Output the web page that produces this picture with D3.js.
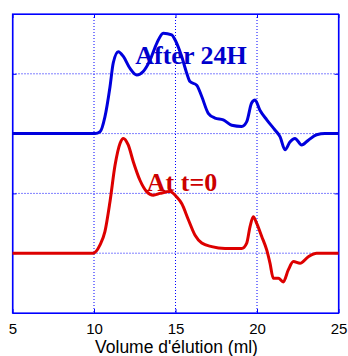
<!DOCTYPE html>
<html>
<head>
<meta charset="utf-8">
<script src="https://cdn.jsdelivr.net/npm/d3@7"></script>
<style>
  body { margin: 0; background: #fff; }
  svg { display: block; }
</style>
</head>
<body>
<div id="chart"></div>
<script>
// tick values
var xTicks = [5, 10, 15, 20, 25];
var yTicks = [0, 1, 2, 3, 4, 5];

// after 24H (blue) - volume (ml) and signal, offset by 3 units
var blueVol = [5, 10.06, 10.37, 10.67, 10.98, 11.18, 11.49, 11.80, 12.21, 12.62, 13.02, 13.44, 13.85, 14.25, 14.77, 14.97, 15.38, 15.69, 15.89, 16.30, 16.61, 17.01, 17.42, 17.93, 18.45, 19.06, 19.37, 19.67, 19.88, 20.18, 20.60, 21.10, 21.41, 21.72, 22.02, 22.33, 22.74, 23.15, 23.66, 24.17, 25];
var blueVal = [3.00, 3.00, 3.03, 3.28, 3.78, 4.18, 4.37, 4.29, 4.09, 3.98, 4.04, 4.23, 4.51, 4.68, 4.65, 4.57, 4.29, 4.01, 3.87, 3.81, 3.62, 3.34, 3.26, 3.23, 3.14, 3.12, 3.20, 3.51, 3.56, 3.39, 3.23, 3.06, 2.95, 2.73, 2.86, 2.92, 2.81, 2.89, 2.98, 3.00, 3.00];

// at t=0 (red), offset by 1 unit
var redVol = [5, 9.94, 10.37, 10.67, 10.98, 11.29, 11.60, 11.80, 12.10, 12.41, 12.82, 13.23, 13.64, 14.05, 14.66, 15.07, 15.38, 15.79, 16.20, 16.61, 17.22, 18.04, 19.06, 19.37, 19.57, 19.77, 19.98, 20.29, 20.60, 20.80, 21.00, 21.31, 21.61, 21.92, 22.23, 22.64, 23.15, 23.66, 25];
var redVal = [1.00, 1.00, 1.14, 1.36, 1.86, 2.47, 2.84, 2.92, 2.81, 2.53, 2.22, 2.03, 1.97, 2.00, 2.03, 1.94, 1.83, 1.56, 1.30, 1.17, 1.11, 1.08, 1.08, 1.17, 1.44, 1.61, 1.50, 1.28, 1.05, 0.83, 0.58, 0.58, 0.52, 0.72, 0.86, 0.83, 0.94, 1.00, 1.00];

var labels = ["After 24H", "At t=0"];

var width = 348, height = 356;
var margin = {top: 14, right: 9.5, bottom: 43, left: 12.5};
var w = width - margin.left - margin.right;
var h = height - margin.top - margin.bottom;

var svg = d3.select("#chart").append("svg")
    .attr("width", width)
    .attr("height", height);

var g = svg.append("g")
    .attr("transform", "translate(" + margin.left + "," + margin.top + ")");

var x = d3.scaleLinear().domain([5, 25]).range([0, w]);
var y = d3.scaleLinear().domain([0, 5]).range([h, 0]);

// dotted grid
g.append("g").selectAll("line")
    .data(xTicks.slice(1, -1))
    .enter().append("line")
    .attr("x1", function(d) { return x(d); })
    .attr("x2", function(d) { return x(d); })
    .attr("y1", 0).attr("y2", h)
    .attr("stroke", "#0000ff")
    .attr("stroke-dasharray", "1,2");

g.append("g").selectAll("line")
    .data(yTicks.slice(1, -1))
    .enter().append("line")
    .attr("y1", function(d) { return y(d); })
    .attr("y2", function(d) { return y(d); })
    .attr("x1", 0).attr("x2", w)
    .attr("stroke", "#0000ff")
    .attr("stroke-dasharray", "1,2");

// axes, ticks inward
var xAxis = d3.axisBottom(x).tickValues(xTicks).tickSizeInner(-4).tickSizeOuter(0).tickPadding(10);
var gx = g.append("g")
    .attr("transform", "translate(0," + h + ")")
    .call(xAxis);
gx.selectAll("text")
    .attr("font-family", "Liberation Sans, Arial, sans-serif")
    .attr("font-size", 15)
    .attr("fill", "#000");

var xTop = d3.axisTop(x).tickValues(xTicks).tickSizeInner(-4).tickSizeOuter(0).tickFormat("");
g.append("g").call(xTop);

var yLeft = d3.axisLeft(y).tickValues(yTicks).tickSizeInner(-4).tickSizeOuter(0).tickFormat("");
g.append("g").call(yLeft);
var yRight = d3.axisRight(y).tickValues(yTicks).tickSizeInner(-4).tickSizeOuter(0).tickFormat("");
g.append("g").attr("transform", "translate(" + w + ",0)").call(yRight);

g.selectAll(".domain").attr("stroke", "#0000ff");
g.selectAll(".tick line").attr("stroke", "#0000ff");

// frame
g.append("rect")
    .attr("width", w).attr("height", h)
    .attr("fill", "none")
    .attr("stroke", "#0000ff")
    .attr("stroke-width", 1.2);

// curves
var line = d3.line()
    .x(function(d) { return x(d[0]); })
    .y(function(d) { return y(d[1]); })
    .curve(d3.curveMonotoneX);

g.append("path")
    .datum(d3.zip(blueVol, blueVal))
    .attr("d", line)
    .attr("fill", "none")
    .attr("stroke", "#0000dd")
    .attr("stroke-width", 3)
    .attr("stroke-linejoin", "round");

g.append("path")
    .datum(d3.zip(redVol, redVal))
    .attr("d", line)
    .attr("fill", "none")
    .attr("stroke", "#dd0000")
    .attr("stroke-width", 3)
    .attr("stroke-linejoin", "round");

// labels
g.append("text")
    .attr("x", x(15.95)).attr("y", y(4.16))
    .attr("text-anchor", "middle")
    .attr("font-family", "Liberation Serif, Times New Roman, serif")
    .attr("font-weight", "bold")
    .attr("font-size", 26)
    .attr("fill", "#0000cc")
    .text(labels[0]);

g.append("text")
    .attr("x", x(15.4)).attr("y", y(2.04))
    .attr("text-anchor", "middle")
    .attr("font-family", "Liberation Serif, Times New Roman, serif")
    .attr("font-weight", "bold")
    .attr("font-size", 26)
    .attr("fill", "#cc0000")
    .text(labels[1]);

// axis title
svg.append("text")
    .attr("x", margin.left + w / 2 + 1)
    .attr("y", 353)
    .attr("text-anchor", "middle")
    .attr("font-family", "Liberation Sans, Arial, sans-serif")
    .attr("font-size", 17.5)
    .attr("fill", "#000")
    .text("Volume d'élution (ml)");
</script>
</body>
</html>
